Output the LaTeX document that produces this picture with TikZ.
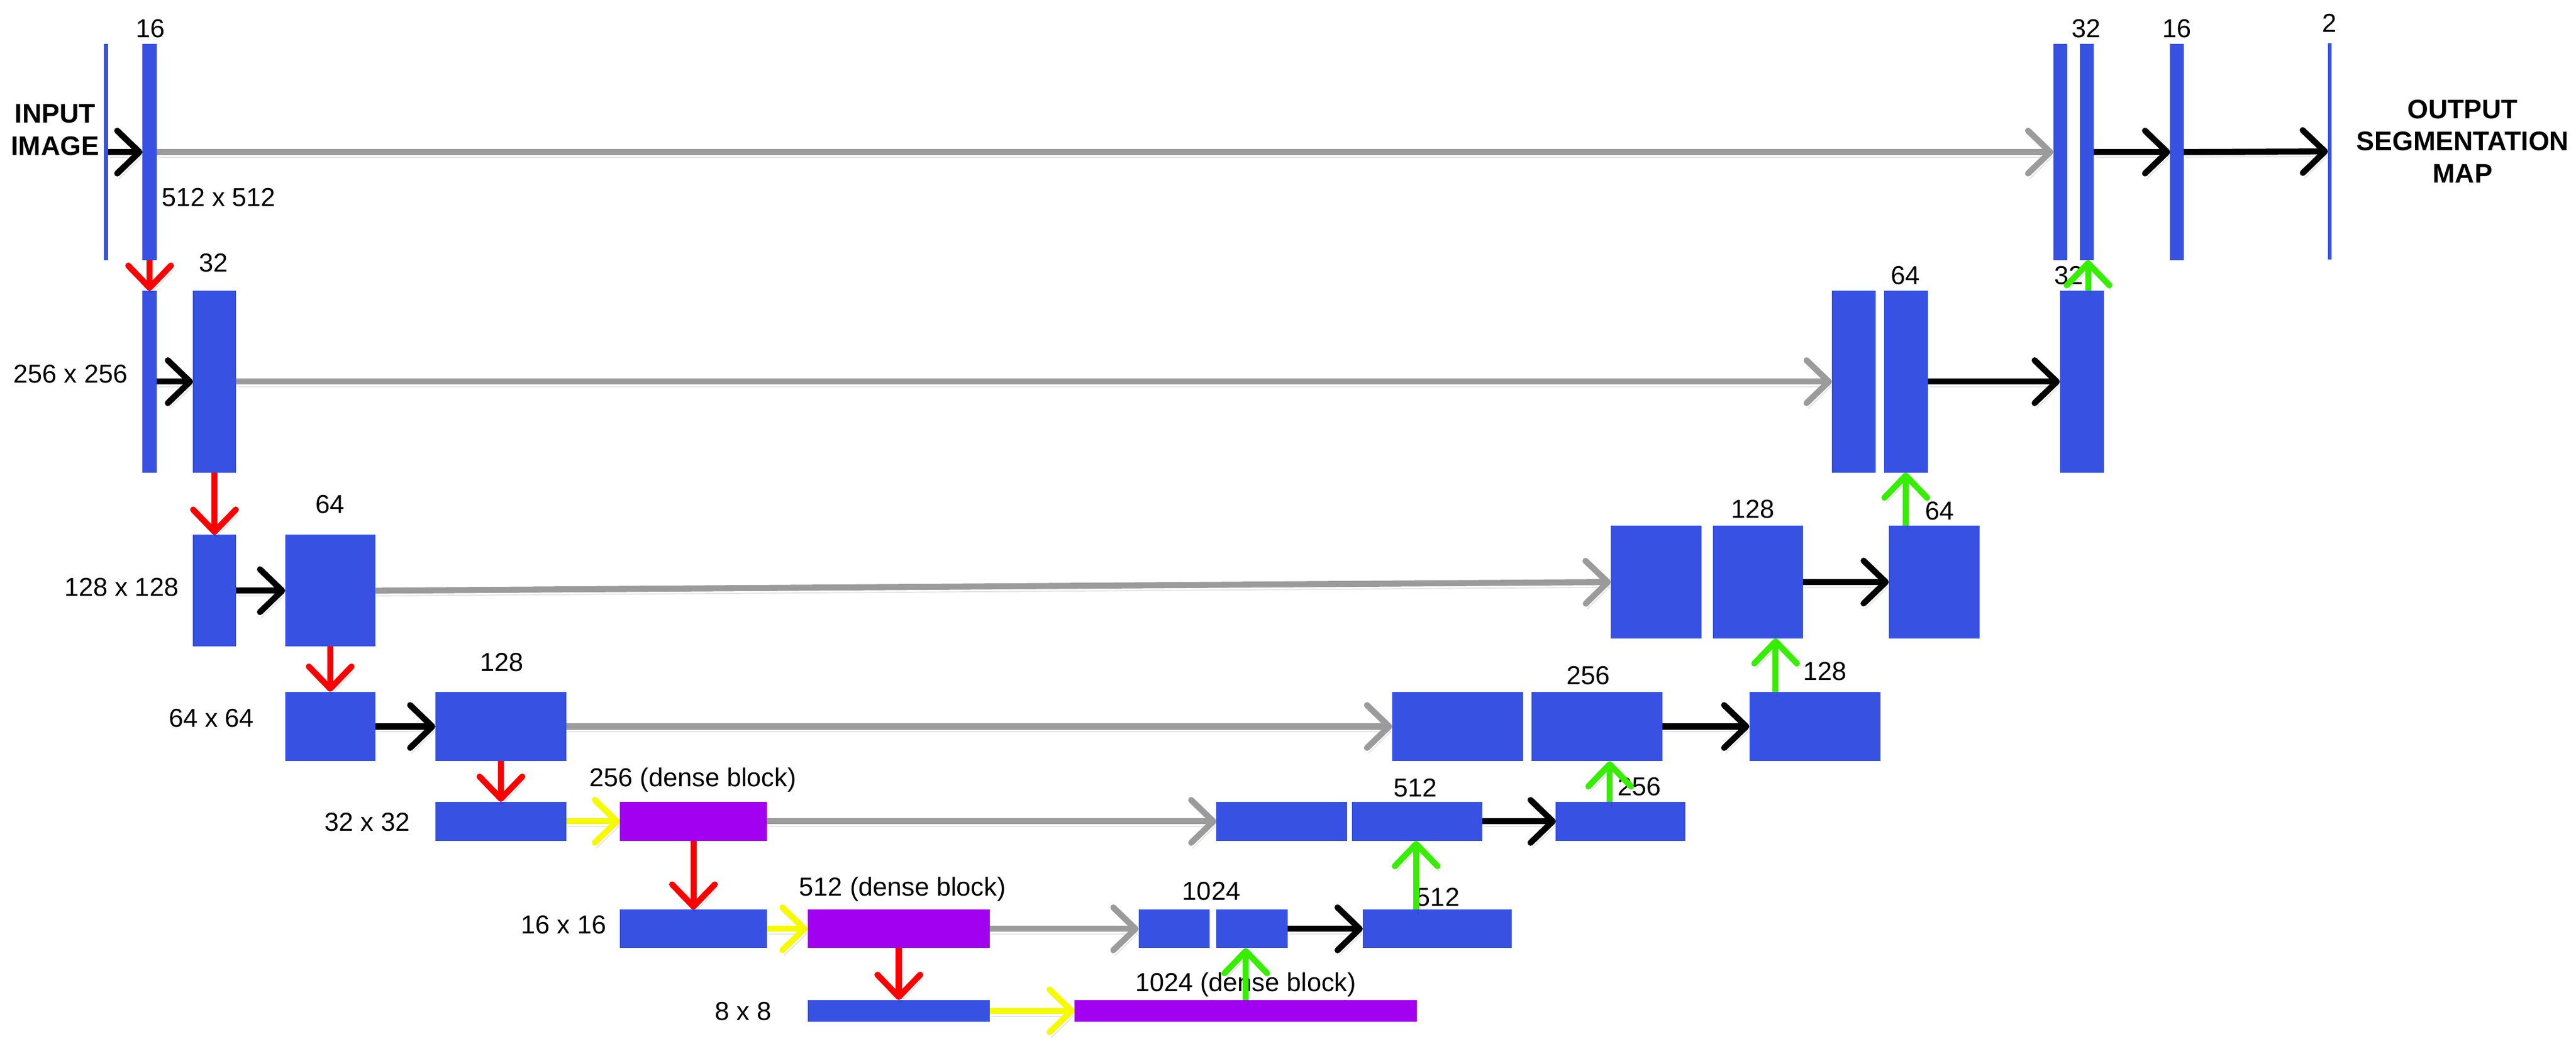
\documentclass[tikz,border=0pt]{standalone}
\usepackage{fontspec}
\setmainfont{Liberation Sans}
\usetikzlibrary{arrows.meta,fit,calc}
\definecolor{ublue}{RGB}{55,82,227}
\definecolor{upurple}{RGB}{162,0,240}
\definecolor{ured}{RGB}{250,0,0}
\definecolor{ugreen}{RGB}{55,238,0}
\definecolor{uyellow}{RGB}{245,250,0}
\definecolor{ugray}{RGB}{155,155,155}
\begin{document}
\begin{tikzpicture}[x=0.02cm,y=-0.02cm,
  box/.style={fill=ublue, inner sep=0pt, outer sep=0pt},
  dbox/.style={fill=upurple, inner sep=0pt, outer sep=0pt},
  arr/.style={line width=2.1pt, -{Straight Barb[length=0.27cm,width=0.52cm,round]},
    preaction={draw=black, opacity=0.10, transform canvas={shift={(0.6pt,-1.8pt)}}}},
  conv/.style={arr, draw=black},
  skip/.style={arr, draw=ugray},
  dense/.style={arr, draw=uyellow},
  down/.style={arr, draw=ured},
  up/.style={arr, draw=ugreen},
  lbl/.style={inner sep=0pt, text height=6.5pt, text depth=0pt, font=\fontsize{9}{11}\selectfont},
  big/.style={inner sep=0pt, align=center, font=\bfseries\fontsize{9.3}{11.2}\selectfont}
]
\path[use as bounding box, fill=white] (0,0) rectangle (1568,642.4);

% ---------------- blocks ----------------
% row 0
\node[box, fit={(63.2,26.8) (65.7,158.3)}] (in0) {};
\node[box, fit={(86.7,26.8) (95.4,158.3)}] (e0) {};
\node[box, fit={(1249.8,26.8) (1258.3,158.3)}] (d0a) {};
\node[box, fit={(1266,26.8) (1274.5,158.3)}] (d0b) {};
\node[box, fit={(1321,26.8) (1329.3,158.3)}] (d0c) {};
\node[box, fit={(1417,26.5) (1419.2,157.8)}] (out) {};
% row 1
\node[box, fit={(86.7,177) (95.4,287.6)}] (e1a) {};
\node[box, fit={(117.5,177) (143.6,287.6)}] (e1b) {};
\node[box, fit={(1115,177) (1141.7,287.6)}] (d1a) {};
\node[box, fit={(1146.7,177) (1173.5,287.6)}] (d1b) {};
\node[box, fit={(1253.8,177) (1280.6,287.6)}] (d1c) {};
% row 2
\node[box, fit={(117.5,325.5) (143.6,393.5)}] (e2a) {};
\node[box, fit={(173.6,325.5) (228.4,393.5)}] (e2b) {};
\node[box, fit={(980.5,320) (1035.7,388.5)}] (d2a) {};
\node[box, fit={(1042.7,320) (1097.5,388.5)}] (d2b) {};
\node[box, fit={(1149.7,320) (1205,388.5)}] (d2c) {};
% row 3
\node[box, fit={(173.5,421) (228.5,463.3)}] (e3a) {};
\node[box, fit={(265,421) (344.8,463.3)}] (e3b) {};
\node[box, fit={(847.4,421) (927.2,463.3)}] (d3a) {};
\node[box, fit={(932.2,421) (1012,463.3)}] (d3b) {};
\node[box, fit={(1064.8,421) (1144.6,463.3)}] (d3c) {};
% row 4
\node[box, fit={(265,488) (344.8,511.8)}] (e4a) {};
\node[dbox, fit={(377.4,488) (466.8,511.8)}] (e4b) {};
\node[box, fit={(740.4,488) (820,511.8)}] (d4a) {};
\node[box, fit={(823,488) (902.3,511.8)}] (d4b) {};
\node[box, fit={(947,488) (1026,511.8)}] (d4c) {};
% row 5
\node[box, fit={(377.4,553.6) (466.8,577)}] (e5a) {};
\node[dbox, fit={(491.6,553.6) (602.6,577)}] (e5b) {};
\node[box, fit={(693,553.6) (736.4,577)}] (d5a) {};
\node[box, fit={(740.4,553.6) (783.8,577)}] (d5b) {};
\node[box, fit={(829.5,553.6) (920.2,577)}] (d5c) {};
% row 6
\node[box, fit={(491.6,608.6) (602.6,621.9)}] (e6a) {};
\node[dbox, fit={(654.2,608.6) (862.4,621.9)}] (e6b) {};

% ---------------- labels ----------------
\node[big] (tin) at (33.5,79) {INPUT\\IMAGE};
\node[big] (tout) at (1499,86) {OUTPUT\\SEGMENTATION\\MAP};
\node[lbl] (c0a) at (91.7,17.3) {16};
\node[lbl] (c0b) at (1270,17.3) {32};
\node[lbl] (c0c) at (1325,17.3) {16};
\node[lbl] (c0d) at (1418,13.7) {2};
\node[lbl, anchor=west] (s0) at (98,119.8) {512 x 512};
\node[lbl] (c1a) at (130,159.6) {32};
\node[lbl, anchor=east] (s1) at (78,227.4) {256 x 256};
\node[lbl] (c1b) at (1159.7,167.5) {64};
\node[lbl] (c1c) at (1259.4,167.5) {32};
\node[lbl] (c2a) at (200.8,306.8) {64};
\node[lbl, anchor=east] (s2) at (109,357) {128 x 128};
\node[lbl] (c2b) at (1067,309.7) {128};
\node[lbl] (c2c) at (1180.6,310.6) {64};
\node[lbl] (c3a) at (305.3,403) {128};
\node[lbl, anchor=east] (s3) at (155,437) {64 x 64};
\node[lbl] (c3b) at (966.7,411) {256};
\node[lbl] (c3c) at (1110.7,408.4) {128};
\node[lbl] (c4a) at (421.8,473) {256 (dense block)};
\node[lbl, anchor=east] (s4) at (249.8,500) {32 x 32};
\node[lbl] (c4b) at (861.5,479.3) {512};
\node[lbl] (c4c) at (998,478.6) {256};
\node[lbl] (c5a) at (549.4,539.5) {512 (dense block)};
\node[lbl, anchor=east] (s5) at (369.5,562.4) {16 x 16};
\node[lbl] (c5b) at (737.4,542) {1024};
\node[lbl] (c5c) at (875.2,545.6) {512};
\node[lbl] (c6a) at (758.2,597.7) {1024 (dense block)};
\node[lbl, anchor=east] (s6) at (470,615.3) {8 x 8};

% ---------------- connectors ----------------
% skip connections
\draw[skip] (e0.east) -- (d0a.west);
\draw[skip] (e1b.east) -- (d1a.west);
\draw[skip] (e2b.east) -- (d2a.west);
\draw[skip] (e3b.east) -- (d3a.west);
\draw[skip] (e4b.east) -- (d4a.west);
\draw[skip] (e5b.east) -- (d5a.west);
% convolutions
\draw[conv] (in0.east) -- (e0.west);
\draw[conv] (e1a.east) -- (e1b.west);
\draw[conv] (e2a.east) -- (e2b.west);
\draw[conv] (e3a.east) -- (e3b.west);
\draw[conv] (d0b.east) -- (d0c.west);
\draw[conv] (d0c.east) -- (out.west);
\draw[conv] (d1b.east) -- (d1c.west);
\draw[conv] (d2b.east) -- (d2c.west);
\draw[conv] (d3b.east) -- (d3c.west);
\draw[conv] (d4b.east) -- (d4c.west);
\draw[conv] (d5b.east) -- (d5c.west);
% dense blocks
\draw[dense] (e4a.east) -- (e4b.west);
\draw[dense] (e5a.east) -- (e5b.west);
\draw[dense] (e6a.east) -- (e6b.west);
% down-sampling
\draw[down] (e0.south) -- (e1a.north);
\draw[down] (e1b.south) -- (e2a.north);
\draw[down] (e2b.south) -- (e3a.north);
\draw[down] (e3b.south) -- (e4a.north);
\draw[down] (e4b.south) -- (e5a.north);
\draw[down] (e5b.south) -- (e6a.north);
% up-sampling
\coordinate (g6) at (758.3,0);
\coordinate (g5) at (862,0);
\coordinate (g4) at (979.8,0);
\coordinate (g3) at (1080.8,0);
\coordinate (g2) at (1160,0);
\coordinate (g1) at (1271,0);
\draw[up] (g6 |- e6b.north) -- (g6 |- d5b.south);
\draw[up] (g5 |- d5c.north) -- (g5 |- d4b.south);
\draw[up] (g4 |- d4c.north) -- (g4 |- d3b.south);
\draw[up] (g3 |- d3c.north) -- (g3 |- d2b.south);
\draw[up] (g2 |- d2c.north) -- (g2 |- d1b.south);
\draw[up] (g1 |- d1c.north) -- (g1 |- d0b.south);
\end{tikzpicture}
\end{document}
